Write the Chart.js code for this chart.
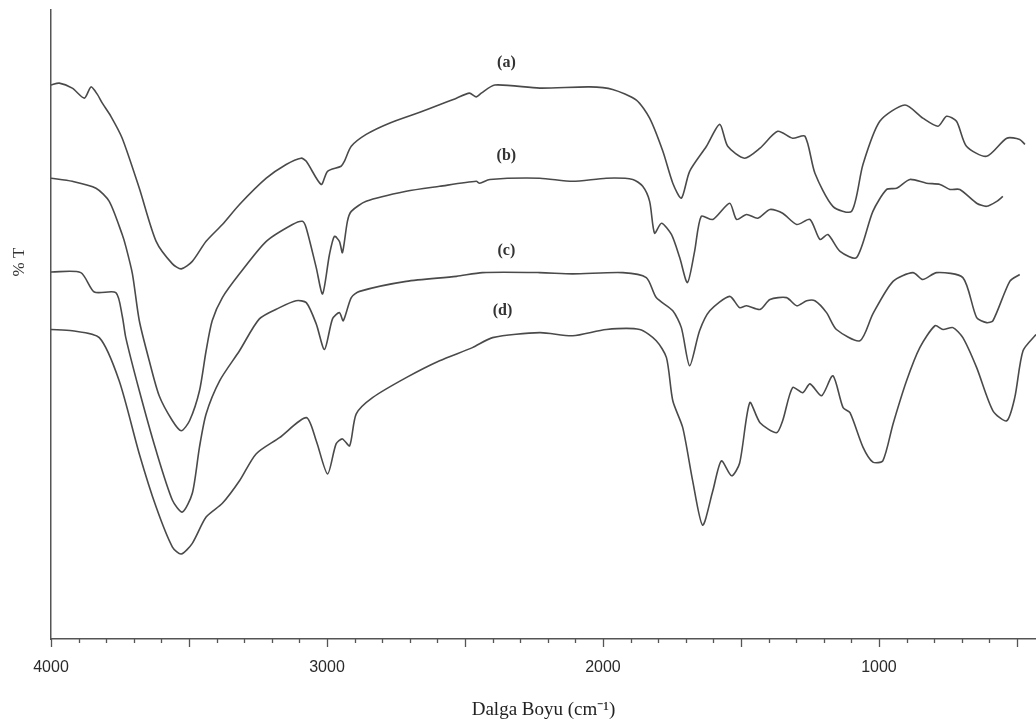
<!DOCTYPE html>
<html>
<head>
<meta charset="utf-8">
<script src="https://cdn.jsdelivr.net/npm/chart.js@4.4.1/dist/chart.umd.min.js"></script>
<style>
  html, body { margin: 0; padding: 0; background: #fff; }
  #wrap { width: 1036px; height: 724px; position: relative; }
</style>
</head>
<body>
<div id="wrap"><canvas id="ftirChart"></canvas></div>
<script>
// --- Data (wavenumber cm-1, %T in arbitrary units) ---
const wnA = [4000, 3970, 3923, 3879, 3855, 3832, 3814, 3783, 3742, 3680, 3619, 3560, 3528, 3488, 3438, 3379, 3317, 3220, 3148, 3094, 3075, 3021, 2998, 2949, 2937, 2912, 2858, 2774, 2654, 2531, 2484, 2459, 2441, 2392, 2229, 2048, 1965, 1879, 1831, 1783, 1747, 1716, 1686, 1625, 1577, 1548, 1487, 1431, 1367, 1313, 1268, 1232, 1167, 1099, 1058, 997, 906, 841, 786, 755, 719, 683, 610, 537, 490, 471];
const tA = [88.3, 88.6, 87.8, 86.2, 88.0, 86.8, 85.4, 83.3, 79.8, 71.8, 63.3, 59.7, 58.9, 60.1, 63.3, 66.0, 69.2, 73.4, 75.6, 76.6, 76.1, 72.4, 74.5, 75.3, 76.1, 78.5, 80.4, 82.2, 84.1, 86.2, 87.0, 86.4, 87.0, 88.3, 87.8, 88.0, 87.6, 85.9, 83.0, 77.7, 72.6, 70.2, 74.5, 78.5, 82.0, 78.5, 76.6, 78.2, 80.9, 79.8, 80.1, 74.2, 68.9, 68.1, 75.6, 82.5, 85.1, 83.0, 81.7, 83.3, 82.5, 78.5, 76.9, 79.8, 79.6, 78.8];

const wnB = [4000, 3923, 3837, 3789, 3742, 3729, 3705, 3680, 3644, 3608, 3560, 3528, 3498, 3462, 3438, 3416, 3379, 3317, 3220, 3125, 3089, 3075, 3039, 3016, 2991, 2973, 2955, 2944, 2926, 2912, 2858, 2713, 2592, 2459, 2447, 2410, 2229, 2110, 1988, 1892, 1856, 1831, 1813, 1788, 1752, 1722, 1694, 1668, 1644, 1602, 1541, 1516, 1480, 1439, 1395, 1349, 1298, 1250, 1214, 1185, 1141, 1081, 1022, 972, 936, 888, 828, 779, 743, 707, 646, 610, 573, 551];
const tB = [73.4, 72.9, 71.8, 69.7, 64.4, 62.5, 58.1, 50.6, 44.2, 38.6, 34.6, 33.0, 34.6, 39.4, 45.8, 50.6, 54.3, 58.1, 63.3, 66.0, 66.5, 65.4, 59.1, 54.9, 61.2, 64.1, 63.3, 61.5, 66.5, 68.1, 69.7, 71.3, 72.1, 72.9, 72.6, 73.2, 73.4, 72.9, 73.4, 73.2, 72.1, 69.7, 64.6, 66.2, 64.4, 60.7, 56.7, 61.7, 67.3, 66.8, 69.4, 66.8, 67.6, 67.0, 68.4, 67.8, 66.0, 66.8, 63.6, 64.4, 61.7, 60.7, 68.1, 71.6, 71.8, 73.2, 72.6, 72.4, 71.6, 71.6, 69.4, 68.9, 69.7, 70.5];

const wnC = [4000, 3892, 3843, 3765, 3742, 3729, 3680, 3619, 3560, 3524, 3488, 3462, 3438, 3389, 3317, 3245, 3172, 3112, 3075, 3039, 3009, 2980, 2955, 2941, 2912, 2882, 2713, 2531, 2437, 2229, 2110, 1928, 1843, 1807, 1747, 1716, 1686, 1650, 1613, 1541, 1505, 1480, 1431, 1395, 1335, 1298, 1262, 1232, 1190, 1154, 1069, 1022, 949, 877, 841, 791, 696, 646, 610, 587, 526, 490];
const tC = [58.4, 58.3, 55.2, 55.1, 51.4, 47.9, 39.4, 29.8, 21.9, 20.0, 23.0, 30.4, 35.7, 41.0, 45.8, 50.9, 52.7, 53.8, 53.5, 50.1, 46.0, 50.9, 51.9, 50.6, 54.3, 55.3, 56.9, 57.7, 58.3, 58.3, 58.1, 58.3, 57.5, 54.3, 52.2, 49.5, 43.4, 49.0, 52.2, 54.5, 52.7, 53.0, 52.4, 54.0, 54.3, 53.0, 53.8, 53.8, 51.9, 49.2, 47.4, 51.7, 56.9, 58.3, 57.2, 58.3, 57.5, 51.1, 50.3, 50.6, 56.9, 58.0];

const wnD = [4000, 3923, 3825, 3753, 3680, 3619, 3560, 3528, 3488, 3438, 3379, 3317, 3257, 3172, 3075, 3039, 2998, 2967, 2944, 2918, 2894, 2835, 2713, 2592, 2473, 2400, 2229, 2110, 1988, 1867, 1807, 1770, 1747, 1711, 1675, 1639, 1602, 1571, 1534, 1505, 1468, 1431, 1371, 1349, 1313, 1276, 1250, 1208, 1167, 1130, 1105, 1058, 1022, 986, 949, 900, 852, 797, 768, 732, 696, 646, 587, 537, 508, 478, 431];
const tD = [49.2, 49.0, 47.9, 41.0, 29.3, 20.8, 14.4, 13.3, 15.0, 19.2, 21.4, 25.0, 29.3, 31.9, 35.1, 31.4, 26.1, 30.9, 31.7, 30.6, 35.7, 38.3, 41.5, 44.2, 46.3, 47.9, 48.7, 48.2, 49.2, 49.2, 47.4, 44.7, 37.8, 33.5, 25.0, 17.9, 23.4, 28.2, 25.8, 27.8, 37.5, 34.3, 32.7, 34.6, 39.9, 39.1, 40.5, 38.6, 41.8, 36.7, 35.9, 30.4, 28.0, 28.2, 34.1, 41.0, 46.3, 49.8, 49.2, 49.5, 47.9, 43.1, 36.2, 34.6, 38.3, 45.8, 48.4];

// curve labels (a)..(d)
const curveLabels = ['(a)', '(b)', '(c)', '(d)'];
const labelWn = [2350, 2350, 2350, 2364];
const labelT = [91.8, 76.9, 61.7, 52.2];

const X_MIN = 431, X_MAX = 4000;

function toPoints(xs, ys) {
    return xs.map((x, i) => ({ x, y: ys[i] }));
}

function makeSet(label, xs, ys) {
    return {
        label,
        data: toPoints(xs, ys),
        borderColor: '#4a4a4a',
        borderWidth: 1.6,
        pointRadius: 0,
        tension: 0.25,
        fill: false
    };
}

// --- small plugins: tick marks of two lengths, curve labels, y title ---
const tickMarks = {
    id: 'tickMarks',
    afterDraw(chart) {
        const xs = chart.scales.x;
        const ctx = chart.ctx;
        ctx.save();
        ctx.strokeStyle = '#555';
        ctx.lineWidth = 1.3;
        xs.ticks.forEach(t => {
            const px = Math.round(xs.getPixelForValue(t.value)) + 0.5;
            const len = t.value % 500 === 0 ? 8 : 4;
            ctx.beginPath();
            ctx.moveTo(px, xs.top);
            ctx.lineTo(px, xs.top + len);
            ctx.stroke();
        });
        ctx.restore();
    }
};

const curveText = {
    id: 'curveText',
    afterDatasetsDraw(chart) {
        const { ctx, scales: { x, y } } = chart;
        ctx.save();
        ctx.fillStyle = '#333';
        ctx.font = 'bold 16px "Liberation Serif", serif';
        ctx.textAlign = 'center';
        ctx.textBaseline = 'middle';
        curveLabels.forEach((txt, i) => {
            ctx.fillText(txt, x.getPixelForValue(labelWn[i]), y.getPixelForValue(labelT[i]));
        });
        // y axis title, sits above the middle in the original
        ctx.translate(20, 262);
        ctx.rotate(-Math.PI / 2);
        ctx.font = '17px "Liberation Serif", serif';
        ctx.fillText('% T', 0, 0);
        ctx.restore();
    }
};

const ctx = document.getElementById('ftirChart').getContext('2d');
new Chart(ctx, {
    type: 'line',
    data: {
        datasets: [
            makeSet('a', wnA, tA),
            makeSet('b', wnB, tB),
            makeSet('c', wnC, tC),
            makeSet('d', wnD, tD)
        ]
    },
    options: {
        responsive: true,
        maintainAspectRatio: false,
        animation: false,
        layout: { padding: { top: 10, right: 0, bottom: 0, left: 0 } },
        plugins: {
            legend: { display: false },
            tooltip: { enabled: false }
        },
        scales: {
            x: {
                type: 'linear',
                reverse: true,
                min: X_MIN,
                max: X_MAX,
                border: { display: true, color: '#555', width: 1.5 },
                grid: { display: false, drawTicks: false },
                ticks: {
                    stepSize: 100,
                    includeBounds: false,
                    autoSkip: false,
                    maxRotation: 0,
                    padding: 19,
                    color: '#2a2a2a',
                    font: { family: '"Liberation Sans Narrow", "Liberation Sans", sans-serif', size: 16 },
                    callback: v => (v % 1000 === 0 ? String(v) : '')
                },
                title: {
                    display: true,
                    text: 'Dalga Boyu (cm⁻¹)',
                    color: '#222',
                    font: { family: '"Liberation Serif", serif', size: 19 },
                    padding: { top: 0, bottom: 3 }
                },
                afterFit: s => { s.height = 85; }
            },
            y: {
                min: -0.3,
                max: 100.3,
                border: { display: true, color: '#555', width: 1.5 },
                grid: { display: false },
                ticks: { display: false },
                afterFit: s => { s.width = 51; }
            }
        }
    },
    plugins: [tickMarks, curveText]
});
</script>
</body>
</html>
